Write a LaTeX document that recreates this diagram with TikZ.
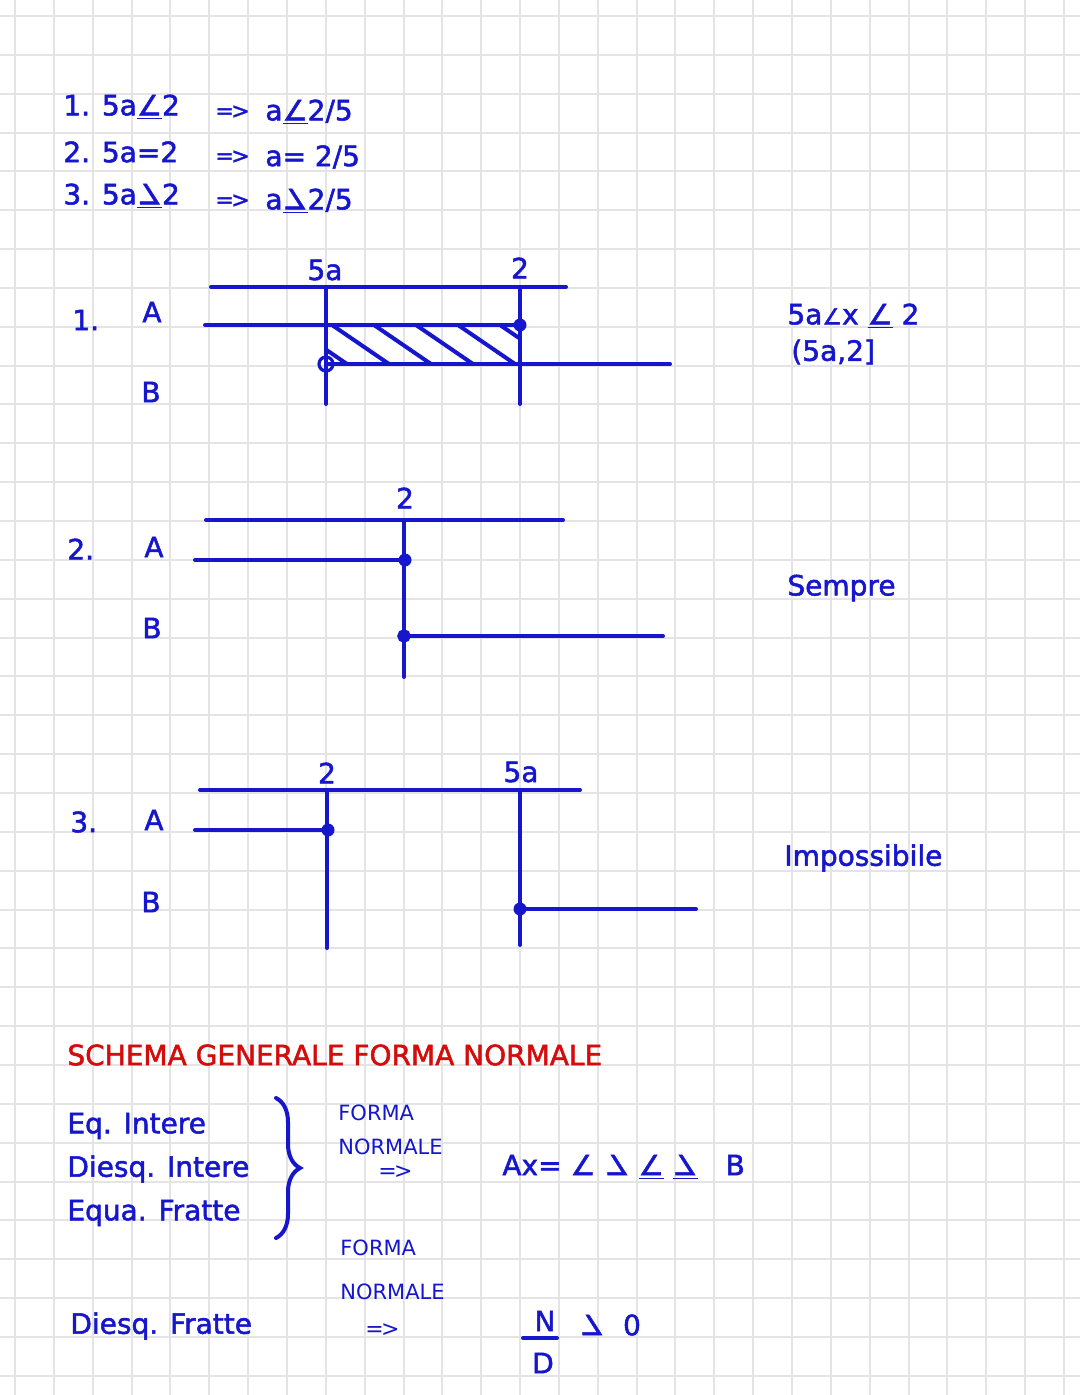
\documentclass[tikz,border=0pt]{standalone}
\usepackage{fontspec}
\setmainfont{DejaVu Sans}
\newfontfamily\hand{DejaVu Sans}[FakeBold=1.8]
\usepackage{graphicx}
\usetikzlibrary{calc, decorations.pathreplacing}

\definecolor{pen}{RGB}{22,22,205}
\definecolor{redpen}{RGB}{212,12,12}
\definecolor{gridgray}{RGB}{228,228,228}

\newcommand{\minore}{∠}
\newcommand{\maggiore}{\reflectbox{∠}}
\newcommand{\minoreq}{\underline{∠}}
\newcommand{\maggioreq}{\underline{\reflectbox{∠}}}
\newcommand{\implica}{{\fontsize{11}{12}\selectfont =\kern-0.12em>}}

\begin{document}
\begin{tikzpicture}[x=0.5pt, y=-0.5pt,
    gridline/.style={draw=gridgray, line width=1pt},
    pen/.style={draw=pen, line width=2pt, line cap=round},
    txt/.style={text=pen, inner sep=0pt, anchor=west, font=\hand\fontsize{14}{16}\selectfont},
    small/.style={txt, font=\fontsize{10.5}{12}\selectfont},
    dot/.style={circle, fill=pen, inner sep=0pt, minimum size=6.5pt},
    ring/.style={circle, draw=pen, line width=1.6pt, inner sep=0pt, minimum size=7pt},
    fullring/.style={circle, draw=pen, line width=2.2pt, inner sep=0pt, minimum size=4.5pt}]
    % squared paper
    \fill[white] (0,0) rectangle (1080,1395);
    \useasboundingbox (0,0) rectangle (1080,1395);
    \foreach \i in {0,...,27} \draw[gridline] ({15+38.85*\i},0) -- ({15+38.85*\i},1395);
    \foreach \i in {0,...,35} \draw[gridline] (0,{16+38.85*\i}) -- (1080,{16+38.85*\i});
    % the three cases
    \node[txt] (c1) at (63,107) {1. 5a\minoreq 2}; \node[txt] (c1i) at (215,112) {\implica}; \node[txt] (c1s) at (265,112) {a\minoreq 2/5};
    \node[txt] (c2) at (63,152) {2. 5a=2}; \node[txt] (c2i) at (215,157) {\implica}; \node[txt] (c2s) at (265,157) {a= 2/5};
    \node[txt] (c3) at (63,196) {3. 5a\maggioreq 2}; \node[txt] (c3i) at (215,201) {\implica}; \node[txt] (c3s) at (265,201) {a\maggioreq 2/5};
    % case 1
    \node[txt] (n1) at (72,320) {1.}; \node[txt] (a1) at (142,312) {A}; \node[txt] (b1) at (141,392) {B};
    \node[txt, anchor=center] (p1) at (325,270) {5a}; \node[txt, anchor=center] (q1) at (520,268) {2};
    \coordinate (t1l) at (211,287); \coordinate (t1r) at (566,287);
    \coordinate (v1a) at (326,287); \coordinate (v1b) at (326,404);
    \coordinate (w1a) at (520,287); \coordinate (w1b) at (520,404);
    \coordinate (a1l) at (205,325); \coordinate (b1r) at (670,364);
    \begin{scope}
        \clip (326,325) rectangle (520,364);
        \foreach \s in {290,332,374,416,458,500} \draw[pen] (\s,325) -- ++(57,39);
    \end{scope}
    \node[dot] (d1) at (520,325) {}; \node[ring] (o1) at (326,364) {};
    \draw[pen] (t1l) -- (t1r); \draw[pen] (v1a) -- (v1b); \draw[pen] (w1a) -- (w1b);
    \draw[pen] (a1l) -- (d1.center); \draw[pen] (o1.center) -- (b1r);
    \node[txt] (r1) at (787,316) {5a{\fontsize{11}{12}\selectfont\minore}x \minoreq\ 2}; \node[txt] (r1b) at (791,352) {(5a,2]};
    % case 2
    \node[txt] (n2) at (67,549) {2.}; \node[txt] (a2) at (144,547) {A}; \node[txt] (b2) at (142,628) {B};
    \node[txt, anchor=center] (q2) at (405,498) {2};
    \coordinate (t2l) at (206,520); \coordinate (t2r) at (563,520);
    \coordinate (v2a) at (404,520); \coordinate (v2b) at (404,677);
    \coordinate (a2l) at (195,560); \coordinate (b2r) at (663,636);
    \node[dot] (d2) at (405,560) {}; \node[fullring] (o2) at (404,636) {};
    \draw[pen] (t2l) -- (t2r); \draw[pen] (v2a) -- (v2b);
    \draw[pen] (a2l) -- (d2.center); \draw[pen] (o2.center) -- (b2r);
    \node[txt] (r2) at (787,588) {Sempre};
    % case 3
    \node[txt] (n3) at (70,822) {3.}; \node[txt] (a3) at (144,820) {A}; \node[txt] (b3) at (141,902) {B};
    \node[txt, anchor=center] (q3) at (327,773) {2}; \node[txt, anchor=center] (p3) at (521,772) {5a};
    \coordinate (t3l) at (200,790); \coordinate (t3r) at (580,790);
    \coordinate (v3a) at (327,790); \coordinate (v3b) at (327,948);
    \coordinate (w3a) at (520,790); \coordinate (w3b) at (520,945);
    \coordinate (a3l) at (195,830); \coordinate (b3r) at (696,909);
    \node[dot] (d3) at (328,830) {}; \node[dot] (e3) at (520,909) {};
    \draw[pen] (t3l) -- (t3r); \draw[pen] (v3a) -- (v3b); \draw[pen] (w3a) -- (w3b);
    \draw[pen] (a3l) -- (d3.center); \draw[pen] (e3.center) -- (b3r);
    \node[txt] (r3) at (784,858) {Impossibile};
    % schema generale
    \node[txt, text=redpen] (titolo) at (67,1055) {SCHEMA GENERALE FORMA NORMALE};
    \node[txt] (e1) at (67,1126) {Eq. Intere}; \node[txt] (e2) at (67,1169) {Diesq. Intere}; \node[txt] (e3) at (67,1213) {Equa. Fratte};
    \coordinate (br1) at (276,1098); \coordinate (br2) at (276,1238);
    \draw[pen, decorate, decoration={brace, amplitude=12pt}] (br1) -- (br2);
    \node[small] (f1) at (338,1113) {FORMA}; \node[small] (f2) at (338,1147) {NORMALE}; \node[small] (f3) at (378,1172) {\implica};
    \node[txt] (ax) at (502,1167) {Ax= \minore\ \maggiore\ \minoreq\ \maggioreq\quad B};
    \node[small] (g1) at (340,1248) {FORMA}; \node[small] (g2) at (340,1292) {NORMALE}; \node[small] (g3) at (365,1330) {\implica};
    \node[txt] (e4) at (70,1326) {Diesq. Fratte};
    \node[txt, anchor=center] (num) at (545,1321) {N}; \node[txt, anchor=center] (den) at (543,1363) {D};
    \coordinate (fr1) at (523,1338); \coordinate (fr2) at (557,1338);
    \draw[pen] (fr1) -- (fr2);
    \node[txt, anchor=center] (seg) at (592,1325) {\maggiore}; \node[txt, anchor=center] (zero) at (632,1325) {0};
\end{tikzpicture}
\end{document}
